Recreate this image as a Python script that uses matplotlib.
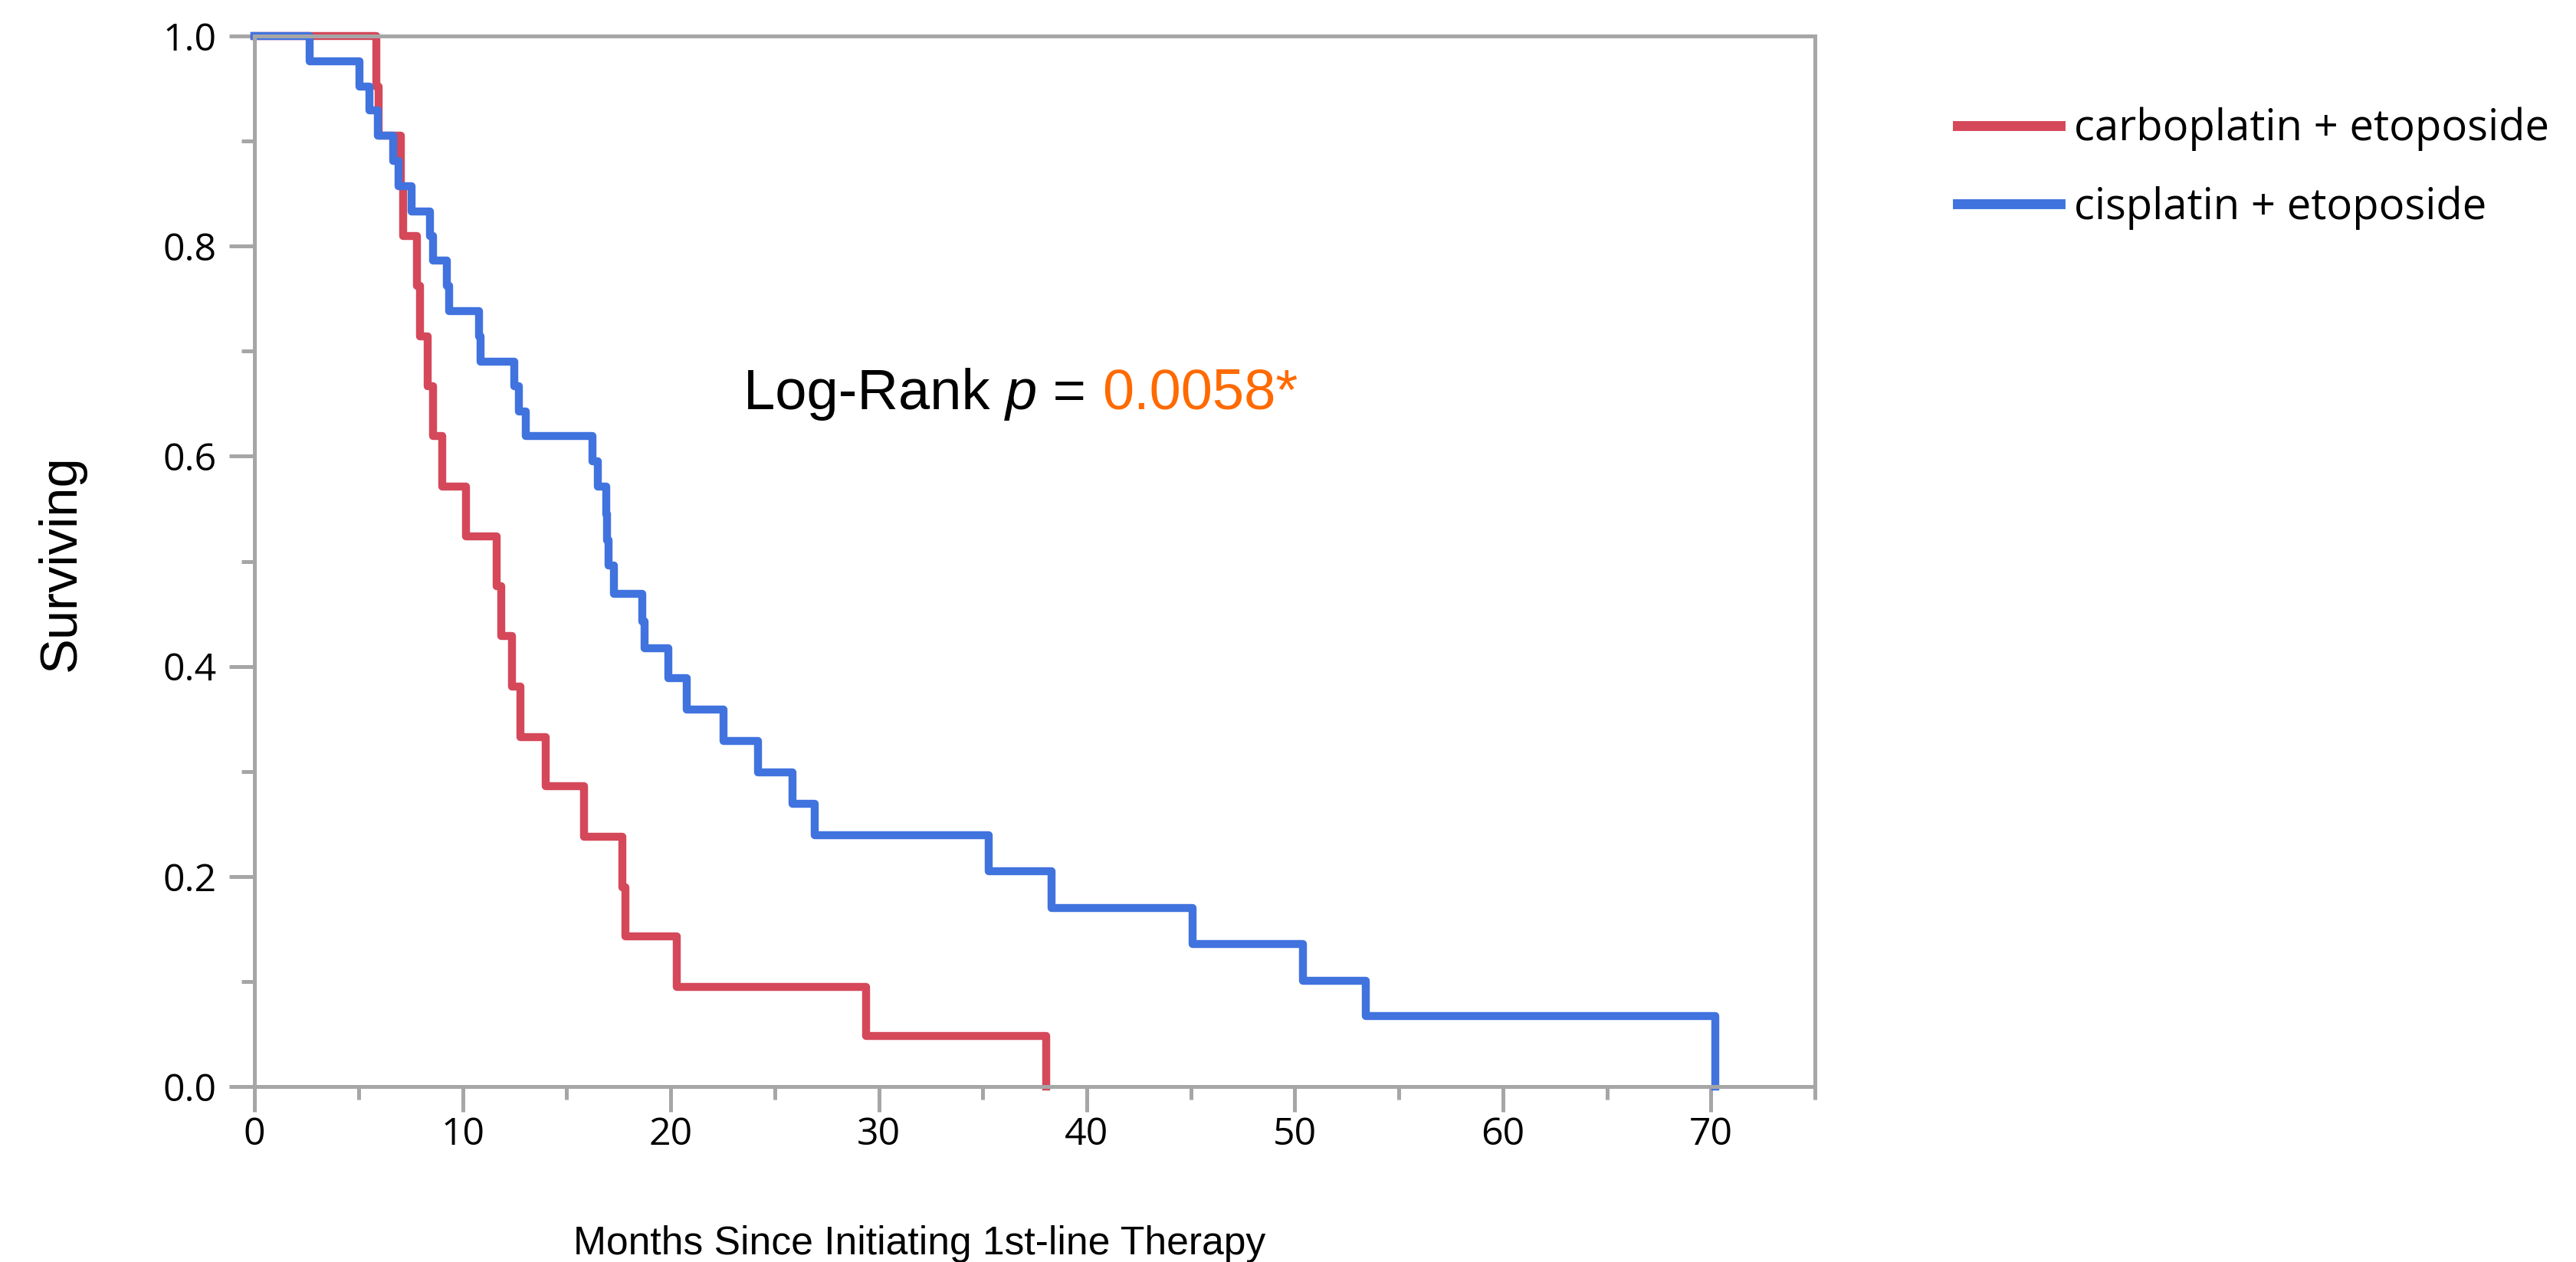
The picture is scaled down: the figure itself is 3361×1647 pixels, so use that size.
import matplotlib
matplotlib.use("Agg")
import matplotlib.pyplot as plt
from matplotlib.ticker import MultipleLocator

# Kaplan-Meier step data (months, survival fraction)
carbo_t = [0, 5.85, 5.95, 7.05, 7.15, 7.80, 7.97, 8.34, 8.58, 9.03, 10.18, 11.65, 11.86,
           12.39, 12.77, 13.98, 15.83, 17.67, 17.84, 20.31, 29.41, 38.04]
carbo_s = [1.0, 0.952, 0.905, 0.857, 0.810, 0.762, 0.714, 0.667, 0.619, 0.571, 0.524, 0.476,
           0.429, 0.381, 0.333, 0.286, 0.238, 0.190, 0.143, 0.095, 0.048, 0.0]

cis_t = [0, 2.64, 5.06, 5.54, 5.92, 6.65, 6.93, 7.55, 8.44, 8.59, 9.25, 9.35, 10.79, 10.87,
         12.48, 12.71, 13.04, 16.25, 16.50, 16.90, 16.95, 17.00, 17.29, 18.62, 18.75, 19.89,
         20.77, 22.55, 24.21, 25.84, 26.91, 35.30, 38.30, 45.10, 50.40, 53.40, 70.20]
cis_s = [1.0, 0.976, 0.952, 0.929, 0.905, 0.881, 0.857, 0.833, 0.810, 0.786, 0.762, 0.738,
         0.714, 0.690, 0.667, 0.643, 0.619, 0.595, 0.571, 0.545, 0.520, 0.496, 0.469, 0.443,
         0.417, 0.389, 0.359, 0.329, 0.299, 0.269, 0.239, 0.205, 0.170, 0.136, 0.101, 0.067, 0.0]

labels = ["carboplatin + etoposide", "cisplatin + etoposide"]
p_text = "0.0058*"

RED = "#d5485a"
BLUE = "#4173df"
GREY = "#a6a6a6"
ORANGE = "#ff6a00"

fig = plt.figure(figsize=(3361 / 300, 1647 / 300), dpi=300)
ax = fig.add_axes([0.0988, 0.139, 0.6058, 0.8324])

ax.step(carbo_t, carbo_s, where="post", color=RED, lw=2.5, clip_on=False, label=labels[0])
ax.step(cis_t, cis_s, where="post", color=BLUE, lw=2.5, clip_on=False, label=labels[1])

ax.set_xlim(0, 75)
ax.set_ylim(0, 1.0)
ax.xaxis.set_major_locator(MultipleLocator(10))
ax.xaxis.set_minor_locator(MultipleLocator(5))
ax.yaxis.set_major_locator(MultipleLocator(0.2))
ax.yaxis.set_minor_locator(MultipleLocator(0.1))
ax.yaxis.set_major_formatter(plt.FuncFormatter(lambda v, _: f"{v:.1f}"))

for sp in ax.spines.values():
    sp.set_color(GREY)
    sp.set_linewidth(1.2)
ax.tick_params(which="both", direction="out", color=GREY, width=1.2)
ax.tick_params(which="major", length=8)
ax.tick_params(which="minor", length=4)
ax.tick_params(axis="x", which="major", pad=1.2)
ax.tick_params(axis="y", which="major", pad=3.8)
for lab in ax.get_xticklabels() + ax.get_yticklabels():
    lab.set_fontfamily("Open Sans")
    lab.set_fontsize(12)

fig.text(0.0238, 0.554, "Surviving", rotation=90, ha="center", va="center",
         family="Liberation Sans", fontsize=16.5)
fig.text(0.357, 0.006, "Months Since Initiating 1st-line Therapy", ha="center", va="baseline",
         family="Liberation Sans", fontsize=12.4)

# Log-rank annotation, pieced together so the p-value can be orange
t1 = ax.text(23.5, 0.645, "Log-Rank ", family="Liberation Sans", fontsize=17.8, va="baseline")
t2 = ax.annotate("p", xy=(1, 0), xycoords=t1, va="bottom", ha="left",
                 family="Liberation Sans", fontsize=17.8, style="italic")
t3 = ax.annotate(" = ", xy=(1, 0), xycoords=t2, va="bottom", ha="left",
                 family="Liberation Sans", fontsize=17.8)
ax.annotate(p_text, xy=(1, 0), xycoords=t3, va="bottom", ha="left",
            family="Liberation Sans", fontsize=17.8, color=ORANGE)

leg = fig.legend(loc="upper left", bbox_to_anchor=(0.760, 0.915), frameon=False,
                 borderpad=0, borderaxespad=0, handlelength=2.37, handletextpad=0.32,
                 labelspacing=0.8, prop={"family": "Open Sans", "size": 13.5})
for line in leg.get_lines():
    line.set_linewidth(3.1)

fig.savefig("out.png", dpi=300)
